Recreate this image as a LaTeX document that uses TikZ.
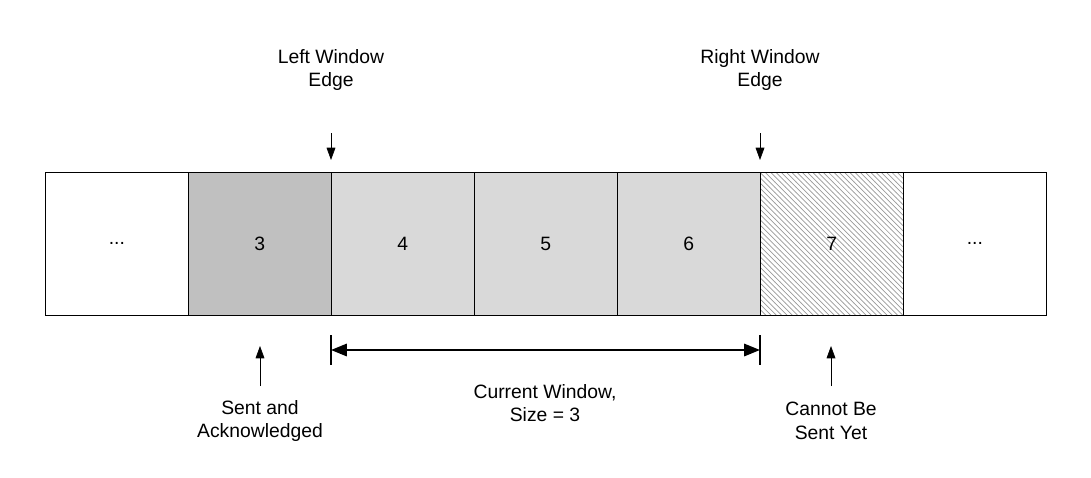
\documentclass[tikz,border=0pt]{standalone}
\usepackage{fontspec}
\setmainfont{Liberation Sans}
\usetikzlibrary{positioning,arrows.meta,patterns}
\definecolor{ackgray}{HTML}{C0C0C0}
\definecolor{wingray}{HTML}{D9D9D9}
\tikzset{
  cell/.style={draw, minimum width=2.86cm, minimum height=2.86cm, inner sep=0pt, anchor=north west},
  lbl/.style={align=center, font=\fontsize{11}{13.5}\selectfont},
  pointer/.style={-{Triangle[length=7pt,width=5pt]}}
}
\begin{document}
\begin{tikzpicture}[x=0.02cm,y=-0.02cm, font=\fontsize{11}{13.5}\selectfont]
  \useasboundingbox (0,0) rectangle (1091,477);
  % cells
  \node[cell] (c0) at (45,172) {...};
  \node[cell, fill=ackgray] (c1) at (188,172) {3};
  \foreach \n/\x in {2/331,3/474,4/617}{
    \pgfmathtruncatemacro{\lab}{\n+2}
    \node[cell, fill=wingray] (c\n) at (\x,172) {\lab};
  }
  \node[cell, pattern=north west lines, pattern color=gray!80] (c5) at (760,172) {};
  \node at (c5) {7};
  \node[cell] (c6) at (903,172) {...};

  % window edges
  \node[lbl] (left) at (331,70) {Left Window\\Edge};
  \node[lbl] (right) at (760,70) {Right Window\\Edge};
  \coordinate (lt) at (331,160);
  \coordinate (rt) at (760,160);
  \draw[pointer] (331,133) -- (lt);
  \draw[pointer] (760,133) -- (rt);

  % current window
  \coordinate (wa) at (331,350);
  \coordinate (wb) at (760,350);
  \draw[very thick, {Triangle[length=9pt,width=7pt]}-{Triangle[length=9pt,width=7pt]}] (wa) -- (wb);
  \draw[thick] (331,335) -- (331,365);
  \draw[thick] (760,335) -- (760,365);
  \node[lbl] (cur) at (545,403) {Current Window,\\Size = 3};

  % below labels
  \node[lbl] (sent) at (260,421) {Sent and\\Acknowledged};
  \node[lbl] (cannot) at (831,421) {Cannot Be\\Sent Yet};
  \draw[pointer] (260,386) -- (260,346);
  \draw[pointer] (831,386) -- (831,346);
\end{tikzpicture}
\end{document}
